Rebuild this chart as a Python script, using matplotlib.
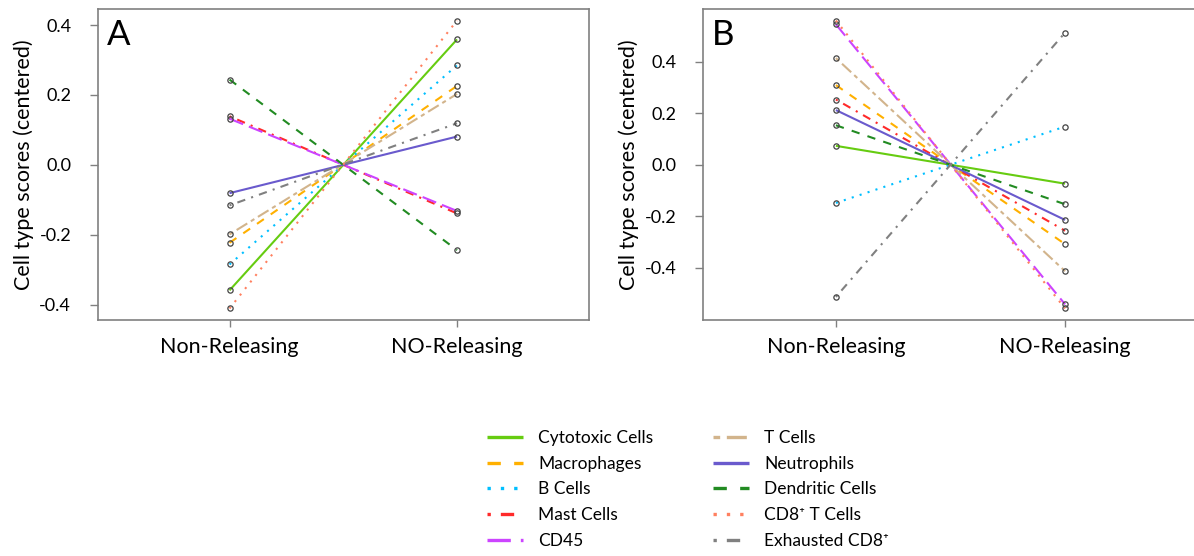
import matplotlib
matplotlib.use("Agg")
import matplotlib.pyplot as plt
from matplotlib.lines import Line2D

plt.rcParams['font.family'] = ['Lato', 'DejaVu Sans']

# data
groups = ["Non-Releasing", "NO-Releasing"]
cell_types = ["Cytotoxic Cells", "Macrophages", "B Cells", "Mast Cells", "CD45",
              "T Cells", "Neutrophils", "Dendritic Cells", "CD8\u207a T Cells",
              "Exhausted CD8\u207a"]

a_non = [-0.359, -0.223, -0.285, 0.139, 0.132, -0.199, -0.081, 0.244, -0.411, -0.116]
a_no = [0.359, 0.226, 0.285, -0.139, -0.132, 0.203, 0.081, -0.244, 0.413, 0.119]

b_non = [0.073, 0.309, -0.149, 0.253, 0.545, 0.414, 0.212, 0.153, 0.560, -0.514]
b_no = [-0.074, -0.309, 0.148, -0.257, -0.543, -0.414, -0.215, -0.154, -0.559, 0.513]

yticks = [-0.4, -0.2, 0.0, 0.2, 0.4]
ytick_labels = ["-0.4", "-0.2", "0.0", "0.2", "0.4"]

# styles (R lty 1..6 repeated)
colors = ['#66CC11', '#FFB000', '#00BFFF', '#FF2A2A', '#CC44FF',
          '#D2B48C', '#6A5ACD', '#228B22', '#FF8060', '#808080']
solid = (0, ())
dashed = (0, (4, 4))
dotted = (0, (1, 3))
dotdash = (0, (1, 3, 4, 3))
longdash = (0, (7, 3))
twodash = (0, (2, 2, 6, 2))
styles = [solid, dashed, dotted, dotdash, longdash,
          twodash, solid, dashed, dotted, dotdash]

W, H = 1194, 556
fig = plt.figure(figsize=(W / 100, H / 100), dpi=100)


def panel(rect, non, no, letter):
    ax = fig.add_axes(rect)
    x = [1, 2]
    for i in range(len(cell_types)):
        ax.plot(x, [non[i], no[i]], color=colors[i], linestyle=styles[i], lw=1.5,
                marker='o', markersize=3.8, markerfacecolor='none',
                markeredgecolor='#444444', markeredgewidth=0.9)
    vals = non + no
    lo, hi = min(vals), max(vals)
    pad = 0.04 * (hi - lo)
    ax.set_ylim(lo - pad, hi + pad)
    ax.set_xlim(0.42, 2.58)
    ax.set_xticks(x)
    ax.set_xticklabels(groups, fontsize=15.5)
    ax.set_yticks(yticks)
    ax.set_yticklabels(ytick_labels, fontsize=13)
    ax.tick_params(axis='y', color='#808080', length=6, width=1, pad=13)
    ax.tick_params(axis='x', color='#808080', length=5, width=1, pad=7)
    for s in ax.spines.values():
        s.set_color('#808080')
        s.set_linewidth(1.2)
    ax.set_ylabel("Cell type scores (centered)", fontsize=15.5)
    ax.yaxis.set_label_coords(-0.13, 0.5)
    ax.text(0.0185, 0.884, letter, transform=ax.transAxes, fontsize=25,
            va='baseline', ha='left')
    return ax


bottom = (H - 320) / H
height = 311 / H
panel([97.6 / W, bottom, 491.4 / W, height], a_non, a_no, "A")
panel([703 / W, bottom, 495 / W, height], b_non, b_no, "B")

handles = [Line2D([0], [0], color=colors[i], linestyle=styles[i], lw=2.4)
           for i in range(len(cell_types))]
fig.legend(handles, cell_types, ncol=2, loc='upper left',
           bbox_to_anchor=(487 / W, 1 - 430 / H), frameon=False,
           fontsize=12.5, handlelength=2.1, handletextpad=0.86,
           columnspacing=3.4, labelspacing=0.56, borderpad=0, borderaxespad=0)

fig.savefig("out.png", dpi=100)
